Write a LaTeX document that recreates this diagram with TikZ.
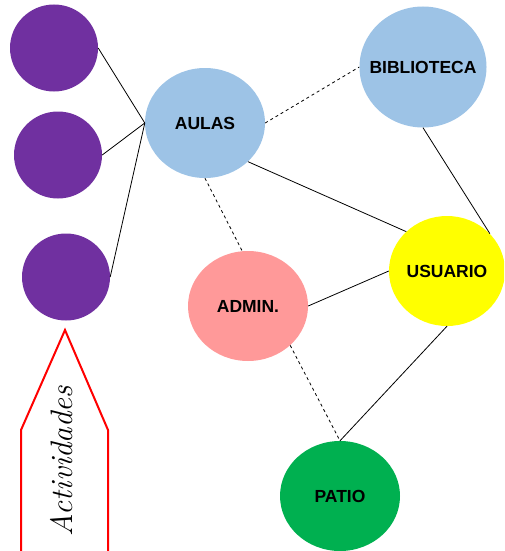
\documentclass[tikz,border=0pt]{standalone}
\usepackage{fontspec}
\setsansfont{Liberation Sans}
\usetikzlibrary{shapes.geometric}
\definecolor{morado}{HTML}{7030A0}
\definecolor{azul}{HTML}{9DC3E6}
\definecolor{rosa}{HTML}{FF9999}
\definecolor{amarillo}{HTML}{FFFF00}
\definecolor{verde}{HTML}{00B050}
\begin{document}
\begin{tikzpicture}[x=1pt,y=-1pt,
  zona/.style={ellipse, inner sep=0pt, minimum width=120pt, minimum height=110pt,
    font=\sffamily\bfseries\fontsize{17.5}{20}\selectfont},
  punto/.style={ellipse, fill=morado, inner sep=0pt, minimum width=88pt, minimum height=87pt},
  enlace/.style={line width=0.8pt},
  flecha/.style={draw=red, line width=2pt}]
\useasboundingbox (0,0) rectangle (504,551);
\clip (0,0) rectangle (504,551);

% actividades
\node[punto] (act1) at (54,48) {};
\node[punto] (act2) at (58,155) {};
\node[punto] (act3) at (66,277) {};

% zonas
\node[zona, fill=azul] (aulas) at (205,123) {\makebox[0pt]{AULAS}};
\node[zona, fill=azul, minimum width=127pt, minimum height=121pt] (biblioteca) at (423,67) {\makebox[0pt]{BIBLIOTECA}};
\node[zona, fill=amarillo, minimum width=116pt] (usuario) at (447,271) {\makebox[0pt]{USUARIO}};
\node[zona, fill=rosa] (admin) at (248,306) {\makebox[0pt]{ADMIN.}};
\node[zona, fill=verde] (patio) at (340,496) {\makebox[0pt]{PATIO}};

\draw[enlace] (act1.east) -- (aulas.west);
\draw[enlace] (act2.east) -- (aulas.west);
\draw[enlace] (act3.east) -- (aulas.west);

\draw[enlace, dashed] (aulas.east) -- (biblioteca.west);
\draw[enlace] (aulas.-42) -- (usuario.136);
\draw[enlace] (biblioteca.south) -- (usuario.41);
\draw[enlace] (admin.east) -- (usuario.west);
\draw[enlace] (usuario.south) -- (patio.north);
\draw[enlace, dashed] (aulas.south) -- (admin.96);
\draw[enlace, dashed] (admin.-43) -- (patio.north);

% flecha
\draw[flecha] (21,551) -- (21,430) -- (65,330) -- (108,430) -- (108,551);
\node[rotate=90, font=\itshape\fontsize{31}{34}\selectfont] (etiqueta) at (62,461) {Actividades};
\end{tikzpicture}
\end{document}
